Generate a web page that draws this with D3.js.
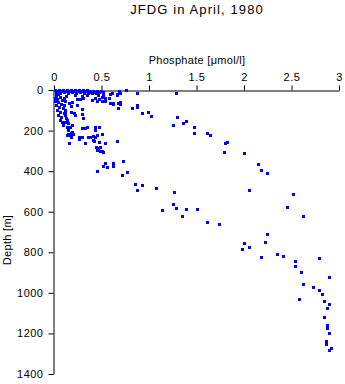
<!DOCTYPE html>
<html><head><meta charset="utf-8">
<script src="https://cdn.jsdelivr.net/npm/d3@7/dist/d3.min.js"></script>
<style>
html,body{margin:0;padding:0;background:#fff;}
svg{display:block;font-family:"Liberation Sans",Arial,Helvetica,sans-serif;}
</style></head>
<body><svg id="c" width="345" height="384"></svg>
<script>
const title = "JFDG in April, 1980";
const xLabel = "Phosphate [\u03bcmol/l]";
const yLabel = "Depth [m]";
const xTicks = [0, 0.5, 1, 1.5, 2, 2.5, 3];
const xTickLabels = ["0", "0.5", "1", "1.5", "2", "2.5", "3"];
const yTicks = [0, 200, 400, 600, 800, 1000, 1200, 1400];
const yTickLabels = ["0", "200", "400", "600", "800", "1000", "1200", "1400"];

// phosphate [µmol/l]
const phosphate = [
 0.01,0.03,0.05,0.07,0.09,0.12,0.14,0.16,0.18,0.20,0.22,0.24,0.26,0.28,0.31,0.33,0.35,0.37,0.39,0.41,0.43,0.45,0.47,0.49,0.52,
 0.02,0.06,0.11,0.15,0.19,0.23,0.27,0.32,0.36,0.40,0.44,
 0.59,0.66,0.68,0.76,0.87,1.28,0.61,0.69,
 0.02,0.03,0.04,0.02,0.05,0.03,0.06,0.04,0.07,0.06,0.08,0.09,0.01,0.01,0.04,0.06,0.08,0.11,0.13,0.07,0.09,0.12,0.11,0.12,0.12,0.11,0.12,0.13,0.14,0.12,0.15,0.14,0.17,0.19,0.15,0.19,0.17,0.15,0.20,0.16,
 0.22,0.21,0.18,0.18,0.19,0.16,0.24,0.29,0.29,0.31,0.29,0.33,0.35,0.43,0.47,0.43,0.29,0.26,0.38,0.41,0.33,0.42,0.47,0.44,0.46,0.48,0.52,
 0.14,0.18,0.18,0.26,0.36,0.45,0.51,0.43,0.41,0.54,0.66,0.48,0.45,0.51,
 0.54,0.62,0.52,0.56,0.62,0.45,0.73,0.77,0.72,0.85,0.93,0.87,1.07,1.26,1.25,1.28,1.39,1.51,1.14,1.35,1.61,1.74,
 0.22,0.29,0.35,0.46,0.52,0.51,0.43,0.47,0.54,0.31,0.27,0.24,0.40,0.45,0.51,0.54,0.59,0.62,0.67,0.69,0.66,0.67,0.62,0.69,0.58,0.82,0.87,0.87,0.93,0.99,1.02,
 1.29,1.25,1.36,1.39,1.47,1.47,1.61,1.64,1.80,1.82,1.79,2.00,2.15,2.18,2.24,2.05,2.52,2.45,2.62,
 2.24,2.22,2.00,1.98,2.05,2.18,2.35,2.41,2.54,2.54,2.60,2.79,2.89,2.62,2.73,2.79,2.82,2.84,2.89,2.58,2.87,2.84,2.87,2.87,2.89,2.86,2.86,2.92,2.89
];
// depth [m]
const depth = [
 0,5,0,5,0,5,0,5,0,5,0,5,0,5,0,5,0,5,10,5,10,5,10,5,10,
 15,15,10,15,10,15,10,15,15,15,15,
 20,20,5,0,15,15,15,15,
 30,44,59,74,84,99,108,123,133,148,158,173,39,54,20,35,49,39,30,69,89,108,74,54,99,113,123,138,148,158,163,182,182,172,197,207,222,217,217,261,
 123,113,108,79,59,64,74,94,118,138,187,187,182,182,182,197,232,241,232,227,261,251,256,281,286,300,305,
 222,212,232,232,232,222,217,232,246,261,251,281,296,300,
 360,360,375,380,375,399,350,404,419,463,468,493,483,503,562,582,587,587,592,621,651,660,
 25,30,25,25,25,35,39,44,39,39,44,44,49,54,54,54,64,64,64,59,25,89,69,69,39,89,74,84,113,108,128,
 133,173,163,153,182,212,212,222,261,256,306,310,365,394,409,493,513,577,621,
 710,749,754,784,774,823,808,818,843,868,897,828,922,956,971,986,1006,1040,1055,1030,1075,1119,1158,1173,1198,1237,1252,1272,1282
];

const svg = d3.select("#c");
const x = d3.scaleLinear().domain([0, 3]).range([54, 339]);
const y = d3.scaleLinear().domain([0, 1400]).range([90, 374]);

svg.append("text").attr("x", 197).attr("y", 14).attr("text-anchor", "middle")
  .attr("font-size", 13).attr("letter-spacing", 1.1).attr("fill", "#000").text(title);

const xa = svg.append("g").attr("transform", "translate(0,90.5)")
  .call(d3.axisTop(x).tickValues(xTicks).tickSize(5).tickSizeOuter(0)
    .tickFormat((d, i) => xTickLabels[i]));
xa.selectAll("text").attr("font-size", 11).attr("letter-spacing", 0.5).attr("fill", "#000").attr("dy", 0).attr("y", -10);
xa.selectAll("line,path").attr("stroke", "#000");
xa.select(".domain").attr("stroke-width", 1);
xa.attr("font-family", null);

const ya = svg.append("g").attr("transform", "translate(53.5,0)")
  .call(d3.axisLeft(y).tickValues(yTicks).tickSize(5).tickSizeOuter(0)
    .tickFormat((d, i) => yTickLabels[i]));
ya.selectAll("text").attr("font-size", 11).attr("letter-spacing", 0.5).attr("fill", "#000").attr("x", -10);
ya.selectAll("line,path").attr("stroke", "#000");
ya.attr("font-family", null);

svg.append("text").attr("x", 197).attr("y", 64).attr("text-anchor", "middle")
  .attr("font-size", 11).attr("letter-spacing", 0.3).attr("fill", "#000").text(xLabel);

svg.append("text").attr("transform", "translate(11,240) rotate(-90)").attr("text-anchor", "middle")
  .attr("font-size", 11).attr("letter-spacing", 0.3).attr("fill", "#000").text(yLabel);

const pts = phosphate.map((p, i) => ({p, d: depth[i]}));
svg.append("g").selectAll("rect").data(pts).join("rect")
  .attr("x", d => Math.round(x(d.p)) - 1)
  .attr("y", d => Math.round(y(d.d)) - 1)
  .attr("width", 3).attr("height", 3)
  .attr("fill", "#0000ff");
</script></body></html>
